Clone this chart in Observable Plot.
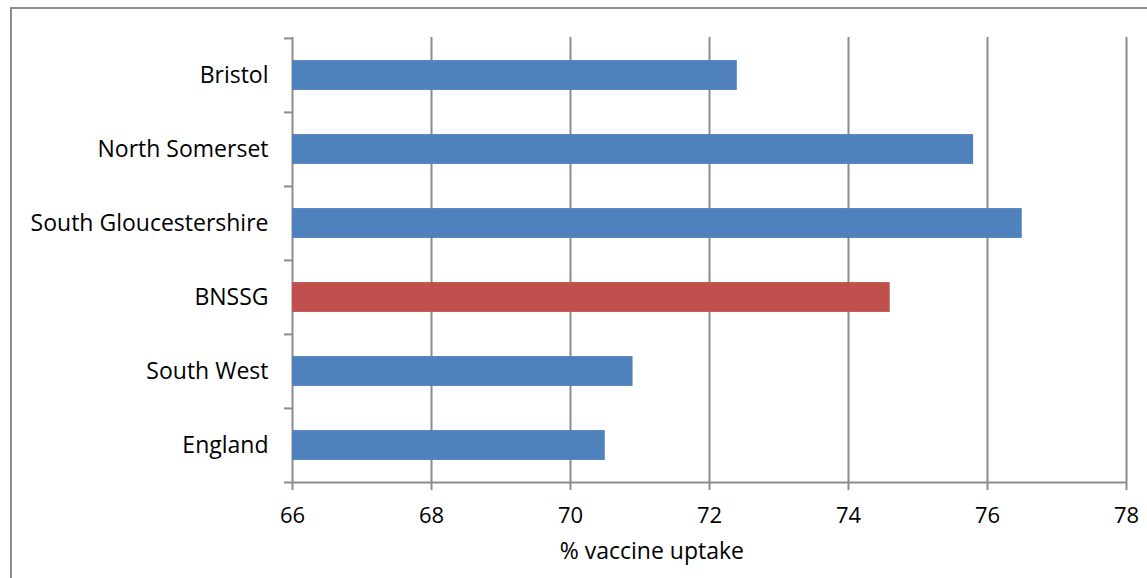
<!DOCTYPE html>
<html>
<head>
<meta charset="utf-8">
<script src="https://cdn.jsdelivr.net/npm/d3@7"></script>
<script src="https://cdn.jsdelivr.net/npm/@observablehq/plot@0.6"></script>
<style>
html, body { margin: 0; padding: 0; background: #fff; overflow: hidden; }
#frame { position: absolute; left: 10px; top: 7px; width: 1200px; height: 640px;
  border-left: 2px solid #8c8c8c; border-top: 2px solid #8c8c8c; box-sizing: border-box; }
#chart { position: absolute; left: 0; top: 0; }
</style>
</head>
<body>
<div id="frame"></div>
<div id="chart"></div>
<script>
const categories = ["Bristol", "North Somerset", "South Gloucestershire", "BNSSG", "South West", "England"];
const uptake = [72.4, 75.8, 76.5, 74.6, 70.9, 70.5];
const highlight = ["BNSSG"];
const xTicks = [66, 68, 70, 72, 74, 76, 78];
const xLabel = "% vaccine uptake";

const data = categories.map((c, i) => ({category: c, value: uptake[i]}));

const W = 1147, H = 578, mL = 292, mR = 21, mT = 37, mB = 96;
const band = (H - mT - mB) / categories.length;
const barH = 30;
const tickLen = 8;
const pxPerUnit = (W - mL - mR) / (xTicks[xTicks.length - 1] - xTicks[0]);

const chart = Plot.plot({
  width: W, height: H,
  marginLeft: mL, marginRight: mR, marginTop: mT, marginBottom: mB,
  style: { fontFamily: "'Open Sans', sans-serif", fontSize: "22px", color: "#000", background: "transparent" },
  x: { domain: [xTicks[0], xTicks[xTicks.length - 1]], ticks: xTicks, label: null },
  y: { domain: categories, padding: 0, label: null },
  marks: [
    Plot.ruleX(xTicks, { stroke: "#8c8c8c", strokeWidth: 2, strokeOpacity: 1 }),
    Plot.barX(data, {
      x1: xTicks[0], x2: "value", y: "category",
      insetTop: (band - barH) / 2, insetBottom: (band - barH) / 2,
      fill: d => highlight.includes(d.category) ? "#C0504D" : "#4F81BD"
    }),
    Plot.ruleY(categories, {
      y: d => d, dy: -band / 2,
      x1: xTicks[0] - tickLen / pxPerUnit, x2: xTicks[0],
      stroke: "#8c8c8c", strokeWidth: 2, clip: false
    }),
    Plot.ruleY([categories[categories.length - 1]], {
      y: d => d, dy: band / 2,
      x1: xTicks[0] - tickLen / pxPerUnit, x2: xTicks[xTicks.length - 1],
      stroke: "#8c8c8c", strokeWidth: 2, clip: false
    }),
    Plot.axisX({ ticks: xTicks, tickSize: 8, tickPadding: 17, stroke: "#8c8c8c", strokeWidth: 2, label: null, fontSize: 22 }),
    Plot.axisY({ tickSize: 0, tickPadding: 24, label: null, fontSize: 23 }),
    Plot.text([xLabel], { frameAnchor: "bottom", dy: 76, fontSize: 23, text: d => d, x: (xTicks[0] + xTicks[xTicks.length - 1]) / 2 - 0.83 })
  ]
});
document.getElementById("chart").appendChild(chart);
</script>
</body>
</html>
